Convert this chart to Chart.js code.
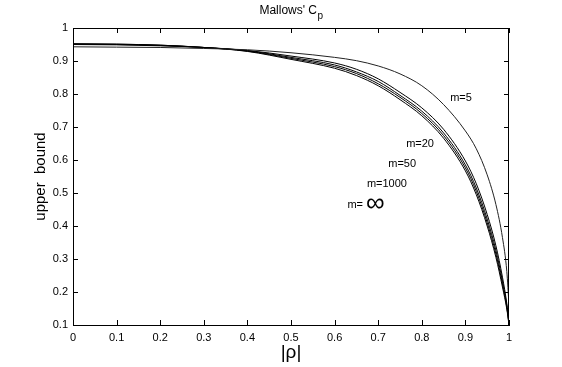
<!DOCTYPE html>
<html>
<head>
<meta charset="utf-8">
<script src="https://cdn.jsdelivr.net/npm/chart.js@4.4.1/dist/chart.umd.min.js"></script>
<style>
  html, body { margin: 0; padding: 0; background: #fff; }
</style>
</head>
<body>
<canvas id="cpChart" width="562" height="367"></canvas>
<script>
'use strict';

const rho = [0, 0.1, 0.2, 0.3, 0.4, 0.5, 0.6, 0.65, 0.7, 0.75, 0.8, 0.85, 0.9, 0.925, 0.95, 0.97, 0.985, 0.995, 1];

// upper bound for each m
const boundM5    = [0.943, 0.942, 0.941, 0.938, 0.934, 0.925, 0.911, 0.901, 0.885, 0.861, 0.825, 0.768, 0.688, 0.634, 0.555, 0.465, 0.365, 0.262, 0.160];
const boundM20   = [0.950, 0.949, 0.946, 0.941, 0.932, 0.915, 0.894, 0.875, 0.846, 0.805, 0.758, 0.693, 0.597, 0.528, 0.435, 0.340, 0.245, 0.165, 0.110];
const boundM50   = [0.951, 0.950, 0.947, 0.941, 0.931, 0.911, 0.888, 0.867, 0.838, 0.796, 0.748, 0.682, 0.585, 0.515, 0.421, 0.326, 0.233, 0.158, 0.105];
const boundM1000 = [0.952, 0.951, 0.948, 0.941, 0.930, 0.908, 0.883, 0.862, 0.831, 0.790, 0.741, 0.674, 0.576, 0.505, 0.410, 0.315, 0.224, 0.153, 0.102];
const boundMInf  = [0.952, 0.951, 0.948, 0.941, 0.929, 0.905, 0.878, 0.856, 0.825, 0.783, 0.734, 0.666, 0.567, 0.495, 0.400, 0.305, 0.215, 0.148, 0.100];

const xTicks = [0, 0.1, 0.2, 0.3, 0.4, 0.5, 0.6, 0.7, 0.8, 0.9, 1];
const xTickLabels = ['0', '0.1', '0.2', '0.3', '0.4', '0.5', '0.6', '0.7', '0.8', '0.9', '1'];
const yTicks = [0.1, 0.2, 0.3, 0.4, 0.5, 0.6, 0.7, 0.8, 0.9, 1];
const yTickLabels = ['0.1', '0.2', '0.3', '0.4', '0.5', '0.6', '0.7', '0.8', '0.9', '1'];

// curve labels, placed in data coordinates
const curveLabels = ['m=5', 'm=20', 'm=50', 'm=1000', 'm= \u221e'];
const labelRho    = [0.89, 0.796, 0.755, 0.72, 0.672];
const labelBound  = [0.788, 0.648, 0.588, 0.527, 0.464];

const FONT = '"Liberation Sans", Arial, Helvetica, sans-serif';

function toPoints(ys) {
    return rho.map((x, i) => ({x: x, y: ys[i]}));
}

function lineSet(label, ys, color) {
    return {
        label: label,
        data: toPoints(ys),
        borderColor: color,
        borderWidth: 1,
        pointRadius: 0,
        fill: false,
        cubicInterpolationMode: 'monotone'
    };
}

// frame, inward ticks, title, axis titles and curve labels
const decorPlugin = {
    id: 'decor',
    afterDraw(chart) {
        const c = chart.ctx;
        const area = chart.chartArea;
        const xs = chart.scales.x;
        const ys = chart.scales.y;
        c.save();
        c.strokeStyle = '#000';
        c.lineWidth = 1;
        c.strokeRect(area.left + 0.5, area.top + 0.5, area.right - area.left - 1, area.bottom - area.top);

        const tl = 5;
        c.beginPath();
        xTicks.forEach(v => {
            const px = Math.round(xs.getPixelForValue(v)) + 0.5;
            c.moveTo(px, area.bottom); c.lineTo(px, area.bottom - tl);
            c.moveTo(px, area.top); c.lineTo(px, area.top + tl);
        });
        yTicks.forEach(v => {
            const py = Math.round(ys.getPixelForValue(v)) + 0.5;
            c.moveTo(area.left, py); c.lineTo(area.left + tl, py);
            c.moveTo(area.right, py); c.lineTo(area.right - tl, py);
        });
        c.stroke();

        c.fillStyle = '#000';
        c.textBaseline = 'middle';

        // title: Mallows' C with subscript p
        c.font = '12px ' + FONT;
        const main = "Mallows' C";
        const wMain = c.measureText(main).width;
        c.font = '10px ' + FONT;
        const wSub = c.measureText('p').width;
        const cx = (area.left + area.right) / 2;
        const startX = cx - (wMain + wSub) / 2;
        c.textAlign = 'left';
        c.font = '12px ' + FONT;
        c.fillText(main, startX, 11);
        c.font = '10px ' + FONT;
        c.fillText('p', startX + wMain + 0.5, 16);

        // x axis title
        c.textAlign = 'center';
        c.font = '19px ' + FONT;
        c.fillText('|\u03c1|', cx, 353);

        // y axis title
        c.save();
        c.translate(41, (area.top + area.bottom) / 2);
        c.rotate(-Math.PI / 2);
        c.font = '15px ' + FONT;
        c.fillText('upper  bound', 0, 0);
        c.restore();

        // curve labels
        curveLabels.forEach((txt, i) => {
            const px = xs.getPixelForValue(labelRho[i]);
            const py = ys.getPixelForValue(labelBound[i]);
            if (txt.indexOf('\u221e') >= 0) {
                const parts = txt.split(' ');
                c.font = '11px ' + FONT;
                const w1 = c.measureText(parts[0]).width;
                c.font = '26px ' + FONT;
                const w2 = c.measureText(parts[1]).width;
                const x0 = px - (w1 + 3 + w2) / 2;
                c.textAlign = 'left';
                c.font = '11px ' + FONT;
                c.fillText(parts[0], x0, py);
                c.font = '26px ' + FONT;
                c.fillText(parts[1], x0 + w1 + 3, py - 1);
            } else {
                c.textAlign = 'center';
                c.font = '11px ' + FONT;
                c.fillText(txt, px, py);
            }
        });
        c.restore();
    }
};

const ctx = document.getElementById('cpChart').getContext('2d');

new Chart(ctx, {
    type: 'line',
    data: {
        datasets: [
            lineSet('m=5', boundM5, '#222'),
            lineSet('m=20', boundM20, '#000'),
            lineSet('m=50', boundM50, '#000'),
            lineSet('m=1000', boundM1000, '#000'),
            lineSet('m=inf', boundMInf, '#000')
        ]
    },
    options: {
        responsive: false,
        devicePixelRatio: 1,
        animation: false,
        layout: {padding: {left: 0, right: 53, top: 28, bottom: 0}},
        plugins: {
            legend: {display: false},
            tooltip: {enabled: false},
            title: {display: false}
        },
        scales: {
            x: {
                type: 'linear',
                min: 0,
                max: 1,
                afterBuildTicks: s => { s.ticks = xTicks.map(v => ({value: v})); },
                afterFit: s => { s.height = 42; },
                grid: {display: false, drawTicks: false},
                border: {display: true, color: '#000', width: 1},
                ticks: {
                    color: '#000',
                    padding: 6,
                    maxRotation: 0,
                    font: {family: FONT, size: 11},
                    callback: (v, i) => xTickLabels[i]
                }
            },
            y: {
                type: 'linear',
                min: 0.1,
                max: 1,
                afterBuildTicks: s => { s.ticks = yTicks.map(v => ({value: v})); },
                afterFit: s => { s.width = 73; },
                grid: {display: false, drawTicks: false},
                border: {display: true, color: '#000', width: 1},
                ticks: {
                    color: '#000',
                    padding: 5,
                    font: {family: FONT, size: 11},
                    callback: (v, i) => yTickLabels[i]
                }
            }
        }
    },
    plugins: [decorPlugin]
});
</script>
</body>
</html>
